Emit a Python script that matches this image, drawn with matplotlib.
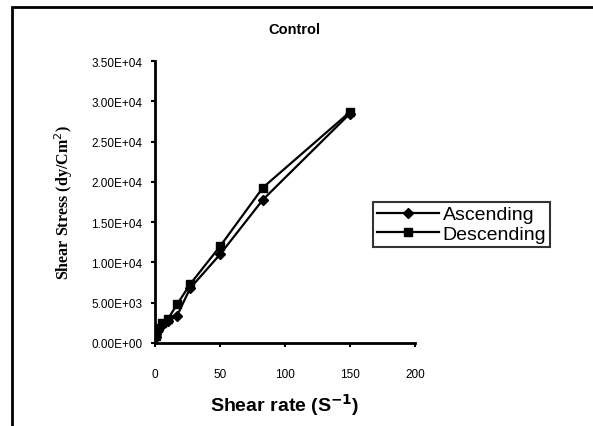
import numpy as np
import matplotlib.pyplot as plt
from matplotlib.patches import Rectangle
from matplotlib.ticker import FuncFormatter

# shear rate (1/s) and shear stress (dy/cm^2)
shear_rate = [0.5, 1, 2.5, 5, 10, 17, 27, 50, 83, 150]
ascending = [800, 1100, 1600, 2200, 2700, 3400, 6800, 11000, 17800, 28500]
descending = [900, 1300, 1900, 2500, 3000, 4800, 7300, 12000, 19300, 28700]

fig = plt.figure(figsize=(5.93, 4.27), dpi=100)
ax = fig.add_axes([0.2614, 0.1944, 0.4385, 0.660])

ax.plot(shear_rate, ascending, color="black", lw=1.6, marker="D", ms=5.5, label="Ascending")
ax.plot(shear_rate, descending, color="black", lw=1.6, marker="s", ms=5.5, label="Descending")

ax.set_xlim(0, 200)
ax.set_ylim(0, 35000)
ax.set_xticks([0, 50, 100, 150, 200])
ax.set_yticks(np.arange(0, 35001, 5000))
ax.yaxis.set_major_formatter(FuncFormatter(lambda v, p: f"{v:.2E}"))

for s in ["top", "right"]:
    ax.spines[s].set_visible(False)
for s in ["left", "bottom"]:
    ax.spines[s].set_linewidth(2)
ax.tick_params(direction="out", length=3, width=1.5, labelsize=8.5,
               labelfontfamily="Liberation Sans")
ax.tick_params(axis="y", pad=6)
ax.tick_params(axis="x", pad=15, labelsize=8.5)

ax.set_xlabel(r"Shear rate (S$^{\mathbf{-1}}$)", fontsize=14, fontweight="bold",
              family="Liberation Sans", labelpad=8)
ax.set_ylabel("Shear Stress (dy/Cm$^{2}$)", fontsize=11.5, fontweight="bold",
              family="Liberation Serif", labelpad=12)
fig.text(0.497, 0.93, "Control", ha="center", va="center", fontsize=10.5,
         fontweight="bold", family="Liberation Sans")

leg = ax.legend(loc="upper left", bbox_to_anchor=(0.8, 0.535),
                prop={"family": "Liberation Sans", "size": 14},
                frameon=True, fancybox=False, edgecolor="black",
                borderpad=0.2, labelspacing=0.1, handlelength=3.2,
                handletextpad=0.2)
leg.get_frame().set_linewidth(1.5)

fig.patches.append(Rectangle((12 / 593, -0.05), 1.0, 0.05 + (427 - 8) / 427,
                             transform=fig.transFigure, fill=False,
                             edgecolor="black", lw=2))

fig.savefig("out.png", dpi=100)
